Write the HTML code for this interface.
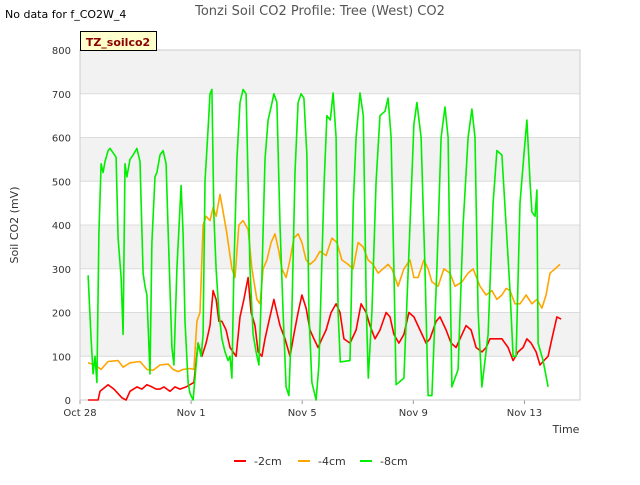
<!DOCTYPE html>
<html><head><meta charset="utf-8"><style>
body{margin:0;background:#fff;font-family:"Liberation Sans","DejaVu Sans",sans-serif}
svg text{font-family:"DejaVu Sans","Liberation Sans",sans-serif}
</style></head><body>
<svg id="chart" width="640" height="480" xmlns="http://www.w3.org/2000/svg">
<text x="5" y="18" font-size="11" fill="#000">No data for f_CO2W_4</text>
<text x="320" y="15" font-size="13" fill="#555" text-anchor="middle">Tonzi Soil CO2 Profile: Tree (West) CO2</text>
<g id="plot"></g>
<g>
<rect x="80.5" y="31.5" width="76" height="19" fill="#ffffcc" stroke="#000"/>
<text x="118" y="46" font-size="11" font-weight="bold" fill="#8b0000" text-anchor="middle">TZ_soilco2</text></g>
<text transform="translate(18,225) rotate(-90)" font-size="11" fill="#333" text-anchor="middle">Soil CO2 (mV)</text>
<text x="566" y="433" font-size="11" fill="#333" text-anchor="middle">Time</text>
<g id="legend"></g>
</svg>
<script>
const yTicks=[0,100,200,300,400,500,600,700,800];
const xTickDays=[0,4,8,12,16];
const xTickLabels=["Oct 28","Nov 1","Nov 5","Nov 9","Nov 13"];
const seriesNames=["-2cm","-4cm","-8cm"];
const seriesColors=["#ff0000","#ffa500","#00ee00"];
const redT=[.29,.65,.72,1.01,1.22,1.51,1.66,1.80,2.05,2.23,2.41,2.59,2.74,2.88,3.02,3.24,3.42,3.60,3.82,3.96,4.10,4.25,4.39,4.54,4.68,4.79,4.90,5.00,5.11,5.26,5.40,5.62,5.76,5.90,6.05,6.16,6.30,6.41,6.55,6.66,6.80,6.98,7.09,7.20,7.38,7.56,7.70,7.85,7.99,8.14,8.28,8.42,8.57,8.71,8.86,9.04,9.22,9.36,9.50,9.72,9.94,10.12,10.30,10.44,10.62,10.80,11.02,11.16,11.30,11.48,11.66,11.84,12.02,12.24,12.46,12.60,12.82,12.96,13.18,13.36,13.54,13.68,13.90,14.08,14.26,14.47,14.62,14.76,14.98,15.19,15.41,15.59,15.77,15.95,16.09,16.24,16.42,16.56,16.70,16.85,16.99,17.17,17.32];
const redV=[0,0,20,35,25,5,0,20,30,25,35,30,25,25,30,20,30,25,30,35,40,130,100,130,170,250,230,180,180,160,120,100,190,230,280,200,170,110,100,140,180,230,200,170,140,100,150,200,240,210,160,140,120,140,160,200,220,200,140,130,160,220,200,170,140,160,200,190,150,130,150,200,190,160,130,140,180,190,160,130,120,140,170,160,120,110,120,140,140,140,120,90,110,120,140,130,110,80,90,100,140,190,185];
const orangeT=[.29,.54,.76,1.01,1.37,1.55,1.80,2.16,2.41,2.63,2.88,3.17,3.35,3.53,3.71,3.96,4.10,4.21,4.32,4.43,4.54,4.68,4.79,4.90,5.04,5.18,5.29,5.47,5.58,5.72,5.87,6.05,6.19,6.37,6.48,6.59,6.73,6.88,7.02,7.16,7.27,7.42,7.56,7.70,7.85,7.99,8.14,8.28,8.46,8.64,8.86,9.07,9.25,9.43,9.65,9.83,10.01,10.19,10.37,10.55,10.73,11.09,11.23,11.45,11.66,11.88,12.02,12.17,12.38,12.53,12.67,12.89,13.10,13.32,13.50,13.75,13.97,14.15,14.40,14.62,14.83,15.01,15.19,15.34,15.48,15.66,15.84,16.06,16.27,16.45,16.63,16.78,16.92,17.10,17.28];
const orangeV=[85,80,70,88,90,75,85,88,70,68,80,82,70,65,70,72,70,180,200,400,420,410,440,420,470,420,380,300,280,400,410,390,300,230,220,300,320,360,380,340,300,280,320,370,380,360,320,310,320,340,330,370,360,320,310,300,360,350,320,310,290,310,300,260,300,320,280,280,320,300,270,260,300,290,260,270,290,300,260,240,250,230,240,255,250,220,220,240,220,230,210,240,290,300,310];
const greenT=[.29,.40,.47,.54,.61,.68,.76,.83,.90,1.01,1.08,1.19,1.30,1.37,1.48,1.55,1.62,1.69,1.80,1.91,2.05,2.16,2.27,2.34,2.41,2.52,2.59,2.70,2.77,2.88,2.99,3.10,3.17,3.31,3.38,3.49,3.64,3.71,3.78,3.89,3.96,4.07,4.18,4.25,4.36,4.43,4.50,4.61,4.68,4.75,4.82,4.90,5.00,5.11,5.22,5.33,5.40,5.47,5.54,5.65,5.76,5.87,5.98,6.05,6.12,6.23,6.34,6.44,6.55,6.66,6.77,6.88,6.98,7.09,7.20,7.31,7.42,7.52,7.63,7.74,7.85,7.96,8.06,8.17,8.24,8.35,8.50,8.60,8.79,8.89,9.01,9.11,9.22,9.29,9.37,9.72,9.84,9.94,10.08,10.20,10.31,10.38,10.51,10.66,10.80,10.98,11.09,11.20,11.30,11.38,11.66,11.88,12.02,12.13,12.28,12.42,12.53,12.67,12.85,13.00,13.14,13.25,13.32,13.39,13.61,13.79,13.97,14.11,14.22,14.33,14.47,14.69,14.87,15.01,15.19,15.34,15.48,15.59,15.70,15.84,15.98,16.09,16.20,16.27,16.38,16.45,16.49,16.67,16.85];
const greenV=[285,140,60,100,40,380,540,520,545,570,575,565,555,370,280,150,540,510,550,560,575,545,290,260,240,60,360,510,520,560,570,540,390,120,80,300,490,380,180,40,15,0,80,130,100,150,500,620,700,710,420,300,200,140,110,90,100,50,300,550,680,710,700,500,300,150,110,80,280,550,640,670,700,680,400,200,30,10,200,520,680,700,690,560,200,40,0,80,500,650,640,702,600,200,87,90,450,600,702,650,200,50,200,500,650,660,690,600,300,35,50,400,630,680,600,300,10,10,300,600,670,600,300,30,70,400,600,665,600,200,30,150,450,570,560,400,250,100,100,450,560,640,500,430,420,480,130,90,30];
const L=80,R=580,T=50,B=400,dMax=18,vMax=800;
const sx=d=>L+d*(R-L)/dMax, sy=v=>B-v*(B-T)/vMax;
const NS="http://www.w3.org/2000/svg";
const plot=document.getElementById('plot');
function mk(tag,attrs,parent){const e=document.createElementNS(NS,tag);for(const k in attrs)e.setAttribute(k,attrs[k]);parent.appendChild(e);return e;}
for(let i=0;i<yTicks.length-1;i++){
  const r=mk('rect',{x:L,y:sy(yTicks[i+1]),width:R-L,height:sy(yTicks[i])-sy(yTicks[i+1]),fill:i%2?'#f2f2f2':'#ffffff'},plot);
  
  
}
yTicks.forEach(v=>{
  const g=mk('line',{x1:L,x2:R,y1:sy(v),y2:sy(v),stroke:'#dcdcdc'},plot);
  
  
  const t=mk('text',{x:L-9,y:sy(v)+4,'font-size':10,fill:'#333','text-anchor':'end'},plot);
  t.textContent=v;
  
  
});
xTickDays.forEach((d,i)=>{
  const tk=mk('line',{x1:sx(d),x2:sx(d),y1:B,y2:B+4,stroke:'#999'},plot);
  
  
  const t=mk('text',{x:sx(d),y:B+16,'font-size':10,fill:'#333','text-anchor':'middle'},plot);
  t.textContent=xTickLabels[i];
  
  
});
const fr=mk('rect',{x:L,y:T,width:R-L,height:B-T,fill:'none',stroke:'#cccccc'},plot);


const sets=[[redT,redV],[orangeT,orangeV],[greenT,greenV]];
sets.forEach((s,i)=>{
  const pts=s[0].map((t,j)=>sx(t).toFixed(1)+','+sy(s[1][j]).toFixed(1)).join(' ');
  const p=mk('polyline',{points:pts,fill:'none',stroke:seriesColors[i],'stroke-width':1.6,'stroke-linejoin':'round'},plot);
  
  
});
const lg=document.getElementById('legend');
const lx=[234,298,360];
seriesNames.forEach((n,i)=>{
  const l=mk('line',{x1:lx[i],x2:lx[i]+12,y1:461,y2:461,stroke:seriesColors[i],'stroke-width':2},lg);
  
  
  const t=mk('text',{x:lx[i]+20,y:465,'font-size':11,fill:'#333'},lg);
  t.textContent=n;
  
  
});
</script>
</body></html>
